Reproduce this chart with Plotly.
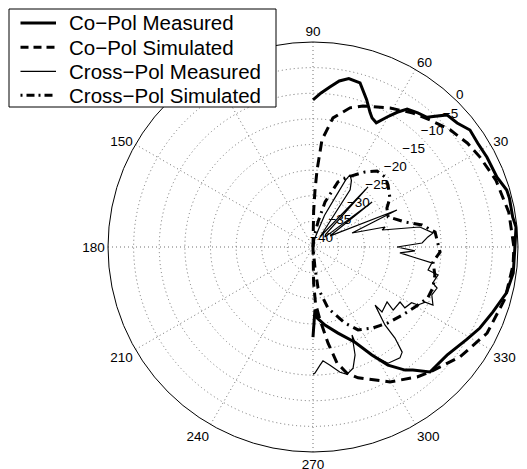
import math
import plotly.graph_objects as go

# ---- data (theta in degrees, values in dB) ----
copol_meas_theta = [90, 87, 84, 81, 78, 74, 70, 67, 65.4, 63, 60.3, 58, 55.7, 52, 48.7, 44.6, 40.7, 36.7,
                    32.2, 27.3, 20.8, 16.4, 14, 8.5, 5.6, 0, -7.4, -13.3, -19.9, -25.9, -31, -38.9, -46.9,
                    -50.9, -53.2, -57.6, -61.4, -66.2, -73.8, -81.3, -86.5, -88.2, -90]
copol_meas_db = [-11.3, -9.9, -8.6, -7.2, -6.4, -6.7, -9.4, -11.5, -12.3, -12.8, -10.8, -9.0, -7.4, -6.8, -6.3,
                 -3.3, -2.9, -1.8, -2.0, -1.8, -1.6, -0.6, -0.5, -0.6, -0.2, -0.6, -0.6, -1.2, -2.7, -3.8,
                 -5.0, -6.4, -6.6, -9.1, -10.0, -12.7, -16.0, -19.7, -22.5, -24.6, -26.1, -27.8, -22.4]

copol_sim_theta = [90, 89, 88, 87, 85.2, 81.2, 75.1, 70.5, 61, 53.3, 47.3, 40.5, 34, 28.3, 20, 10, 0,
                   -5, -15, -26.3, -36.8, -46.9, -51.3, -60.3, -71, -74.9, -78.3, -81.1, -84.5, -87.5, -89, -90]
copol_sim_db = [-40, -33, -29, -25, -19, -14.5, -11.9, -10.8, -9.0, -7.4, -6.3, -4.8, -3.7, -3.0, -2.0, -1.2, -0.8,
                -0.8, -1.2, -2.1, -4.2, -6.6, -7.5, -9.7, -13.0, -14.5, -16.9, -21.0, -25.7, -29, -33, -40]

xpol_meas_theta = [90, 80, 72, 70, 66, 64, 62.8, 60, 57, 55, 47.5, 45, 40, 37.3, 33, 23.8, 19.7, 15.5, 13.8,
                   10.6, 6.7, 5, 2.1, 0, -2.2, -3.9, -5.7, -7.6, -11.3, -12.6, -16.7, -18.3, -22, -25.8,
                   -26.2, -28.9, -29.5, -33.5, -32.3, -38.2, -36.6, -43.3, -43.1, -47.3, -48, -49.7, -51.9,
                   -57.1, -61.4, -66.2, -66.1, -68.7, -71.7, -75, -77.8, -81.8, -85, -86.6, -89.1, -90]
xpol_meas_db = [-40, -38.5, -36, -33.4, -29.5, -25.5, -24.2, -25, -26.7, -37.5, -24.1, -36.5, -37, -25.5, -36,
                -22.1, -31.9, -25.4, -26.1, -18.8, -16.4, -17.5, -18.7, -23.6, -20.1, -23, -20.4, -16.6, -17.1,
                -15, -15.6, -14.5, -15, -14, -15.6, -16.6, -17.9, -18.5, -19.9, -20.1, -22, -21.5, -23.4,
                -19.3, -16.1, -13.1, -12.5, -13, -16, -19.7, -21.2, -17.4, -15.1, -14.3, -15, -16.7, -17.7,
                -16.9, -15.4, -15.2]

xpol_sim_theta = [90, 84, 78.7, 75, 69, 63.4, 55.3, 49.9, 44.2, 39.6, 32.5, 27.8, 21.8, 15.2, 11.4, 7, -2.3,
                  -7.1, -12.9, -18.9, -23.9, -30.5, -37.4, -45.4, -53.9, -61.5, -67.2, -76.2, -83, -84.6, -90]
xpol_sim_db = [-40, -38, -35, -30.9, -26.4, -24.7, -22.2, -20.6, -20.4, -21, -22.2, -23.7, -24.2, -21.4, -18.3,
               -16, -15.2, -16.4, -15.6, -15.3, -15.5, -16.9, -18.1, -19.2, -20.4, -21.6, -23.9, -27.7, -31.9,
               -35.9, -40]

series_names = ["Co\u2212Pol Measured", "Co\u2212Pol Simulated", "Cross\u2212Pol Measured", "Cross\u2212Pol Simulated"]

radial_ticks = [-40, -35, -30, -25, -20, -15, -10, -5, 0]
radial_ticktext = [str(v).replace("-", "\u2212") for v in radial_ticks]
angle_ticks = [0, 30, 60, 90, 120, 150, 180, 210, 240, 270, 300, 330]
angle_ticktext = [str(v) for v in angle_ticks]

# ---- styles ----
FONT = "Liberation Sans, Arial, Helvetica, sans-serif"
W, H = 519, 461          # page body has an 8px margin inside the 527x469 window
OFF = 8
LABEL_ANGLE = 44         # direction along which the ring labels sit
LABEL_SHIFT = 2.3        # ring labels sit slightly outside their ring (dB)
C = (313, 247)           # polar centre in window pixels
R = 205                  # polar radius in pixels
RMIN, RMAX = -40, 0


def px(x):
    return (x - OFF) / W


def py(y):
    return 1 - (y - OFF) / H


styles = [
    dict(color="black", width=3),
    dict(color="black", width=3, dash="10px,6px"),
    dict(color="black", width=1.2),
    dict(color="black", width=3, dash="9px,5px,2px,5px"),
]
legend_styles = [
    dict(color="black", width=3),
    dict(color="black", width=3, dash="8px,5px"),
    dict(color="black", width=1.2),
    dict(color="black", width=3, dash="2px,4px,8px,4px"),
]

fig = go.Figure()
# ring labels inside the range: drawn first so that the curves lie over them
inner = [i for i, t in enumerate(radial_ticks) if t + LABEL_SHIFT < RMAX]
fig.add_trace(go.Scatterpolar(r=[radial_ticks[i] + LABEL_SHIFT for i in inner],
                              theta=[LABEL_ANGLE] * len(inner),
                              mode="text", text=[radial_ticktext[i] for i in inner],
                              textposition="middle center",
                              textfont=dict(size=13.5, family=FONT, color="black"),
                              cliponaxis=False, showlegend=False, hoverinfo="skip"))
for th, r, name, st in [(copol_meas_theta, copol_meas_db, series_names[0], styles[0]),
                        (copol_sim_theta, copol_sim_db, series_names[1], styles[1]),
                        (xpol_meas_theta, xpol_meas_db, series_names[2], styles[2]),
                        (xpol_sim_theta, xpol_sim_db, series_names[3], styles[3])]:
    fig.add_trace(go.Scatterpolar(r=r, theta=th, mode="lines", name=name, line=st, showlegend=False))

# ---- manual legend (box, samples, labels) ----
shapes = [dict(type="rect", xref="paper", yref="paper", x0=px(9), x1=px(276), y0=py(9), y1=py(107),
               line=dict(color="black", width=1), fillcolor="white", layer="above")]
annotations = []
row_y = [23, 47.3, 71.3, 95.3]
for i, name in enumerate(series_names):
    shapes.append(dict(type="line", xref="paper", yref="paper", x0=px(20.5), x1=px(56),
                       y0=py(row_y[i]), y1=py(row_y[i]), line=legend_styles[i], layer="above"))
    annotations.append(dict(text=name, xref="paper", yref="paper", x=px(67), y=py(row_y[i]),
                            xanchor="left", yanchor="middle", showarrow=False,
                            font=dict(size=20.5, family=FONT, color="black")))

# outermost ring label lies just outside the plotting circle -> annotation placed by the same scale
for i, t in enumerate(radial_ticks):
    if t + LABEL_SHIFT >= RMAX:
        rr = R * (t + 1.3 - RMIN) / (RMAX - RMIN)
        a = math.radians(46)
        annotations.append(dict(text=radial_ticktext[i], xref="paper", yref="paper",
                                x=px(C[0] + rr * math.cos(a)), y=py(C[1] - rr * math.sin(a)),
                                xanchor="center", yanchor="middle", showarrow=False,
                                font=dict(size=13.5, family=FONT, color="black")))

fig.update_layout(
    width=W, height=H,
    margin=dict(l=0, r=0, t=0, b=0),
    paper_bgcolor="white",
    font=dict(family=FONT, color="black", size=13),
    showlegend=False,
    shapes=shapes,
    annotations=annotations,
    polar=dict(
        domain=dict(x=[px(C[0] - R), px(C[0] + R)], y=[py(C[1] + R), py(C[1] - R)]),
        bgcolor="white",
        radialaxis=dict(range=[RMIN, RMAX], tickmode="array", tickvals=radial_ticks, ticktext=radial_ticktext,
                        angle=45, showticklabels=False, showline=False, ticks="", gridcolor="#707070",
                        griddash="1px,3px", gridwidth=1),
        angularaxis=dict(direction="counterclockwise", rotation=0, tickmode="array",
                         tickvals=angle_ticks, ticktext=angle_ticktext, showline=True,
                         linecolor="black", linewidth=1, ticks="", gridcolor="#707070",
                         griddash="1px,3px", gridwidth=1, tickfont=dict(size=13.5, family=FONT)),
    ),
)

fig.write_html("out.html")
